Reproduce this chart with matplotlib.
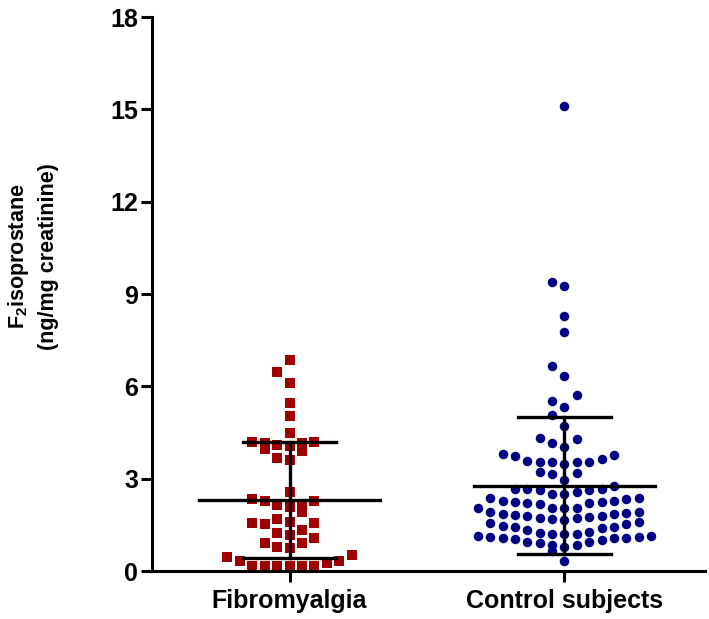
import matplotlib
matplotlib.use('Agg')
import matplotlib.pyplot as plt
import numpy as np

plt.rcParams['font.family'] = ['Liberation Sans', 'DejaVu Sans']
plt.rcParams['mathtext.fontset'] = 'custom'
plt.rcParams['mathtext.rm'] = 'Liberation Sans'
plt.rcParams['mathtext.bf'] = 'Liberation Sans:bold'

groups = ['Fibromyalgia', 'Control subjects']

# values (ng/mg creatinine)
fibromyalgia = [6.86, 6.47, 6.11, 5.46, 5.04, 4.48,
                4.20, 4.20, 4.15, 4.15, 4.06, 4.10, 3.95, 3.91, 3.61, 3.66,
                2.58, 2.27, 2.17, 2.07, 2.15, 2.27, 2.33,
                1.93, 1.55, 1.55, 1.33, 1.60, 1.69, 1.52,
                1.17, 1.22, 0.90, 1.06, 0.92, 0.79, 0.74,
                0.52, 0.34, 0.25, 0.17, 0.17, 0.17, 0.17, 0.17, 0.17, 0.32, 0.44]

control = [15.12, 9.40, 9.27, 8.27, 7.77, 6.65, 6.33, 5.71, 5.53, 5.34, 5.07, 4.71,
           4.28, 4.33, 4.17, 4.02,
           3.79, 3.75, 3.57, 3.53, 3.53, 3.47, 3.53, 3.55, 3.64, 3.77,
           3.19, 3.15, 3.21, 2.96,
           2.66, 2.66, 2.63, 2.50, 2.49, 2.58, 2.63, 2.66, 2.76,
           2.38, 2.33, 2.27, 2.23, 2.20, 2.06, 2.06, 2.06, 2.18, 2.22, 2.23, 2.28, 2.36,
           2.04, 1.91, 1.84, 1.82, 1.79, 1.73, 1.66, 1.68, 1.71, 1.76, 1.79, 1.85, 1.88, 1.93,
           1.58, 1.53, 1.44, 1.41, 1.26, 1.19, 1.19, 1.20, 1.24, 1.33, 1.42, 1.47, 1.57,
           1.15, 1.12, 1.06, 1.03, 0.95, 0.90, 0.85, 0.77, 0.85, 0.93, 1.01, 1.06, 1.08, 1.12, 1.15,
           0.66, 0.33]


def swarm(values, center, step, band):
    # group sorted values into rows of height `band`, then fan each row
    # out from the centre: 0, -1, +1, -2, +2 ...
    vals = np.sort(np.asarray(values))
    xs, ys = [], []
    row = []
    for v in list(vals) + [None]:
        if row and (v is None or v - row[0] > band):
            for k, u in enumerate(row):
                slot = (k + 1) // 2 * (-1 if k % 2 else 1)
                xs.append(center + slot * step)
                ys.append(u)
            row = []
        if v is not None:
            row.append(v)
    return np.array(xs), np.array(ys)


fig = plt.figure(figsize=(7.09, 6.19), dpi=100)
ax = fig.add_axes([0.2144, 0.0775, 0.7796, 0.895])

x1, y1 = swarm(fibromyalgia, 0, 0.0453, 0.41)
ax.scatter(x1, y1, marker='s', s=52, color='#9e0000', linewidths=0, zorder=2)
x2, y2 = swarm(control, 1, 0.0450, 0.395)
ax.scatter(x2, y2, marker='o', s=47, color='#000085', linewidths=0, zorder=2)

# mean +/- SD
for i, vals in enumerate([fibromyalgia, control]):
    m = np.mean(vals)
    sd = np.std(vals, ddof=1)
    ax.plot([i - 0.33, i + 0.33], [m, m], color='black', lw=2.4, zorder=3)
    ax.plot([i, i], [m - sd, m + sd], color='black', lw=2.4, zorder=3)
    for yy in (m - sd, m + sd):
        ax.plot([i - 0.17, i + 0.17], [yy, yy], color='black', lw=2.4, zorder=3)

ax.set_xlim(-0.5, 1.51)
ax.set_ylim(0, 18)
ax.set_yticks([0, 3, 6, 9, 12, 15, 18])
ax.set_xticks([0, 1])
ax.set_xticklabels(groups)
ax.spines['top'].set_visible(False)
ax.spines['right'].set_visible(False)
ax.spines['left'].set_linewidth(2.2)
ax.spines['bottom'].set_linewidth(2.2)
ax.tick_params(axis='y', length=8, width=2.2, labelsize=18, pad=2)
ax.tick_params(axis='x', length=8, width=2.2, labelsize=18, pad=5)
for lab in ax.get_xticklabels() + ax.get_yticklabels():
    lab.set_fontweight('bold')

fig.text(0.046, 0.586, 'F$_\\mathbf{2}$isoprostane\n(ng/mg creatinine)',
         rotation=90, ha='center', va='center', multialignment='center',
         fontsize=15.5, fontweight='bold', linespacing=1.4)

fig.savefig('out.png', dpi=100)
